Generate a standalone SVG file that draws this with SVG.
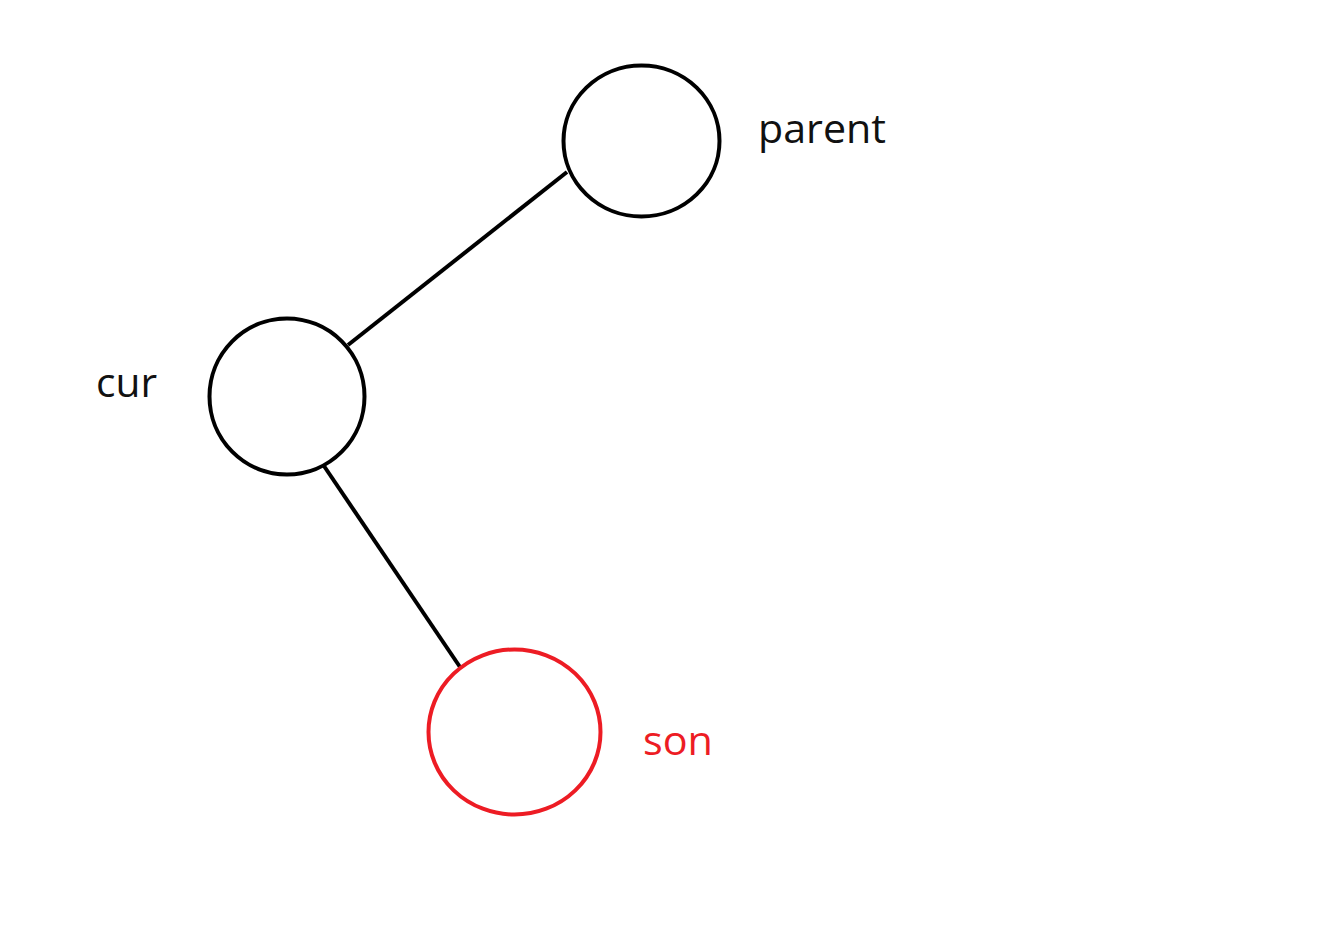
<svg xmlns="http://www.w3.org/2000/svg" width="1334" height="931" viewBox="0 0 1334 931">
<style>
.node{fill:none;stroke:#000;stroke-width:4}
.red{stroke:#ED1C24}
.lbl{font-family:"Open Sans","Noto Sans",sans-serif;font-size:41px;fill:#111}
.lbl.red{fill:#ED1C24;stroke:none}
.edge{stroke:#000;stroke-width:4;fill:none}
</style>
<rect width="1334" height="931" fill="#fff"/>
<g id="connectors">
<line class="edge" x1="567" y1="172" x2="348" y2="345"/>
<line class="edge" x1="324" y1="466" x2="460" y2="667"/>
</g>
<g id="parent">
<ellipse class="node" cx="641.5" cy="141" rx="78" ry="75.5"/>
<text class="lbl" x="758" y="143" textLength="128" lengthAdjust="spacingAndGlyphs">parent</text>
</g>
<g id="cur">
<ellipse class="node" cx="287" cy="396.5" rx="77.5" ry="78"/>
<text class="lbl" x="96" y="397" textLength="61" lengthAdjust="spacingAndGlyphs">cur</text>
</g>
<g id="son">
<ellipse class="node red" cx="514.5" cy="732" rx="86" ry="82.5"/>
<text class="lbl red" x="643" y="755" textLength="70" lengthAdjust="spacingAndGlyphs">son</text>
</g>
</svg>
